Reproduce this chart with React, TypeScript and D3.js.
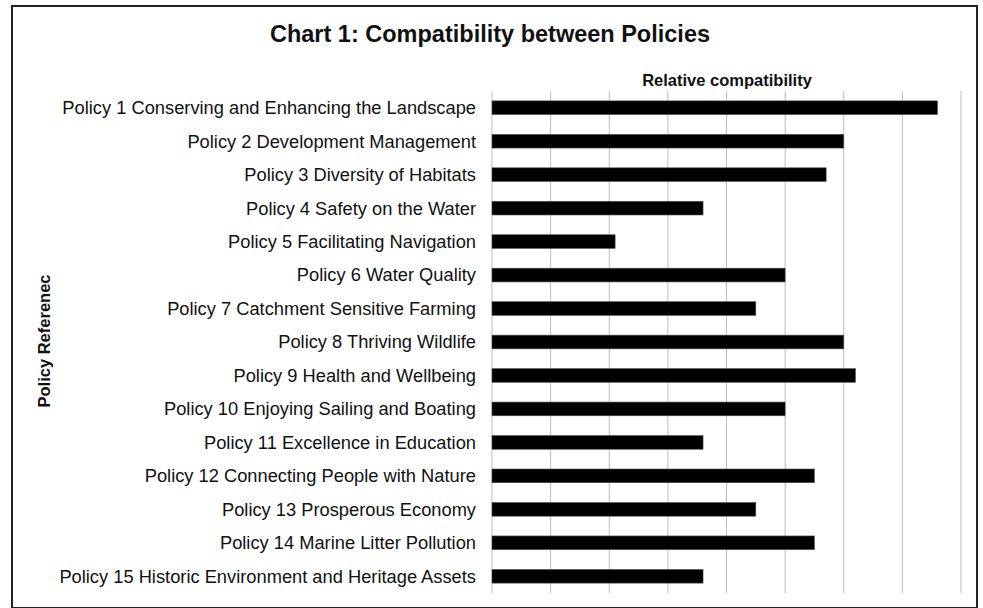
import * as d3 from "d3";

const policies = [
  "Policy 1 Conserving and Enhancing the Landscape",
  "Policy 2 Development Management",
  "Policy 3 Diversity of Habitats",
  "Policy 4 Safety on the Water",
  "Policy 5 Facilitating Navigation",
  "Policy 6 Water Quality",
  "Policy 7 Catchment Sensitive Farming",
  "Policy 8 Thriving Wildlife",
  "Policy 9 Health and Wellbeing",
  "Policy 10 Enjoying Sailing and Boating",
  "Policy 11 Excellence in Education",
  "Policy 12 Connecting People with Nature",
  "Policy 13 Prosperous Economy",
  "Policy 14 Marine Litter Pollution",
  "Policy 15 Historic Environment and Heritage Assets",
];

const compatibility = [7.6, 6, 5.7, 3.6, 2.1, 5, 4.5, 6, 6.2, 5, 3.6, 5.5, 4.5, 5.5, 3.6];

const gridValues = [0, 1, 2, 3, 4, 5, 6, 7, 8];

const W = 983;
const H = 608;
const font = "'Liberation Sans', Arial, sans-serif";

export default function App() {
  const x = d3.scaleLinear().domain([0, 8]).range([492, 961]);
  const y = d3
    .scaleBand<string>()
    .domain(policies)
    .range([91, 593])
    .paddingInner(0.59)
    .paddingOuter(0.295);

  return (
    <svg
      width={W}
      height={H}
      style={{ position: "absolute", left: 0, top: 0, background: "#fff" }}
    >
      <rect x={12} y={6} width={965} height={602} fill="#fff" stroke="#222" strokeWidth={2} />
      <text
        x={490}
        y={42}
        textAnchor="middle"
        fontFamily={font}
        fontWeight="bold"
        fontSize={23.5}
        fill="#111"
      >
        Chart 1: Compatibility between Policies
      </text>
      <text
        x={727}
        y={86}
        textAnchor="middle"
        fontFamily={font}
        fontWeight="bold"
        fontSize={16.5}
        fill="#111"
      >
        Relative compatibility
      </text>
      <text
        transform="translate(50,341) rotate(-90)"
        textAnchor="middle"
        fontFamily={font}
        fontWeight="bold"
        fontSize={16.5}
        fill="#111"
      >
        Policy Referenec
      </text>
      {gridValues.map((v) => (
        <line
          key={v}
          x1={x(v)}
          x2={x(v)}
          y1={91}
          y2={593}
          stroke="#bdbdbd"
          strokeWidth={1}
        />
      ))}
      {policies.map((p, i) => (
        <g key={p}>
          <rect
            x={x(0)}
            y={y(p)}
            width={x(compatibility[i]) - x(0)}
            height={y.bandwidth()}
            fill="#000"
            stroke="#555"
            strokeWidth={0.6}
          />
          <text
            x={476}
            y={(y(p) ?? 0) + y.bandwidth() / 2}
            dy="0.35em"
            textAnchor="end"
            fontFamily={font}
            fontSize={18.3}
            fill="#111"
          >
            {p}
          </text>
        </g>
      ))}
    </svg>
  );
}
